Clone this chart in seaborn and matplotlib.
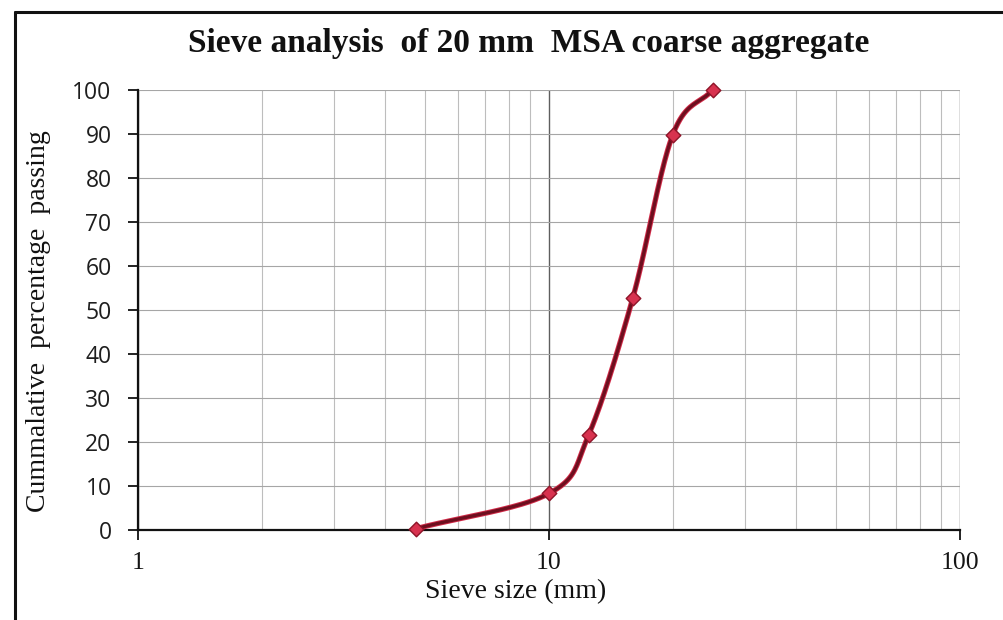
import numpy as np
import pandas as pd
import matplotlib
matplotlib.use("Agg")
import matplotlib.pyplot as plt
import matplotlib.patheffects as pe
from matplotlib.lines import Line2D
from matplotlib.ticker import FixedLocator, NullFormatter
import seaborn as sns

# Sieve analysis data
sieve_size_mm = [4.75, 10, 12.5, 16, 20, 25]
percent_passing = [0.3, 8.3, 21.7, 52.8, 89.8, 100]

x_ticks = [1, 10, 100]
x_tick_labels = ["1", "10", "100"]
y_ticks = [0, 10, 20, 30, 40, 50, 60, 70, 80, 90, 100]

title = "Sieve analysis  of 20 mm  MSA coarse aggregate"
x_label = "Sieve size (mm)"
y_label = "Cummalative  percentage  passing"

sns.set_theme(style="white")
plt.rcParams["font.family"] = ["Liberation Serif", "DejaVu Serif"]

df = pd.DataFrame({"size": sieve_size_mm, "passing": percent_passing})


def smooth_curve(xs, ys, n=40):
    """Catmull-Rom spline through the points, evaluated in log10(x) space."""
    lx = np.log10(np.asarray(xs, float))
    py = np.asarray(ys, float)
    P = np.column_stack([lx, py])
    P = np.vstack([P[0] - (P[1] - P[0]), P, P[-1] + (P[-1] - P[-2])])
    out = []
    for i in range(1, len(P) - 2):
        p0, p1, p2, p3 = P[i - 1], P[i], P[i + 1], P[i + 2]
        t = np.linspace(0, 1, n)[:, None]
        seg = 0.5 * ((2 * p1) + (-p0 + p2) * t + (2 * p0 - 5 * p1 + 4 * p2 - p3) * t ** 2
                     + (-p0 + 3 * p1 - 3 * p2 + p3) * t ** 3)
        out.append(seg if i == len(P) - 3 else seg[:-1])
    out = np.vstack(out)
    return 10 ** out[:, 0], out[:, 1]


W, H = 1004, 620
fig = plt.figure(figsize=(W / 100, H / 100), dpi=100)
ax = fig.add_axes([138 / W, 1 - 530 / H, (960 - 138) / W, (530 - 90) / H])

ax.set_xscale("log")
ax.set_xlim(1, 100)
ax.set_ylim(0, 100)

# grid: major and minor verticals, horizontal every 10
minor = [m * d for d in (1, 10) for m in range(2, 10)]
ax.xaxis.set_major_locator(FixedLocator(x_ticks))
ax.xaxis.set_minor_locator(FixedLocator(minor))
ax.xaxis.set_minor_formatter(NullFormatter())
ax.set_xticklabels(x_tick_labels)
ax.set_yticks(y_ticks)
ax.grid(True, which="major", axis="x", color="#5e5e5e", lw=1.0)
ax.grid(True, which="minor", axis="x", color="#bdbdbd", lw=0.8)
ax.grid(True, which="major", axis="y", color="#a6a6a6", lw=0.8)
ax.set_axisbelow(True)

sx, sy = smooth_curve(df["size"], df["passing"])
ax.plot(sx, sy, color="#6e0f1f", lw=2.4, solid_capstyle="round",
        path_effects=[pe.Stroke(linewidth=3.8, foreground="#d22a48"), pe.Normal()], zorder=3)
sns.scatterplot(data=df, x="size", y="passing", ax=ax, marker="D", s=55,
                color="#d8324f", edgecolor="#8e1428", linewidth=1.0, zorder=4, clip_on=False)

for side in ("top", "right"):
    ax.spines[side].set_visible(False)
for side in ("left", "bottom"):
    ax.spines[side].set_color("#111111")
    ax.spines[side].set_linewidth(1.6)

ax.tick_params(axis="x", which="major", direction="out", length=7, width=1.3,
               color="#111111", bottom=True, pad=9)
ax.tick_params(axis="x", which="minor", length=0)
ax.tick_params(axis="y", direction="out", length=7, width=1.3, color="#111111", left=True, pad=12)
for lab in ax.get_xticklabels():
    lab.set_fontfamily(["Liberation Serif"])
    lab.set_fontsize(18.5)
    lab.set_color("#151515")
for lab in ax.get_yticklabels():
    lab.set_fontfamily(["Open Sans", "DejaVu Sans"])
    lab.set_fontsize(16.5)
    lab.set_color("#1e1e1e")

ax.set_xlabel("")
ax.set_ylabel("")
fig.text(0.5 * (413 + 618) / W, 1 - 598 / H, x_label, ha="center", va="baseline",
         fontsize=20, color="#111111")
fig.text(39 / W, 1 - 321 / H, y_label, rotation=90, ha="center", va="center",
         fontsize=20, color="#111111")
fig.text(0.5 * (173 + 885) / W, 1 - 52 / H, title, ha="center", va="baseline", fontsize=24,
         fontweight="bold", color="#111111")

# frame lines around the chart area (top and left edges)
fig.add_artist(Line2D([15 / W, 15 / W], [0, 1 - 12 / H], color="#111111", lw=2.2,
                      transform=fig.transFigure))
fig.add_artist(Line2D([15 / W, 1.0], [1 - 12 / H, 1 - 12 / H], color="#111111", lw=2.2,
                      transform=fig.transFigure))

fig.savefig("out.png", dpi=100, facecolor="white")
